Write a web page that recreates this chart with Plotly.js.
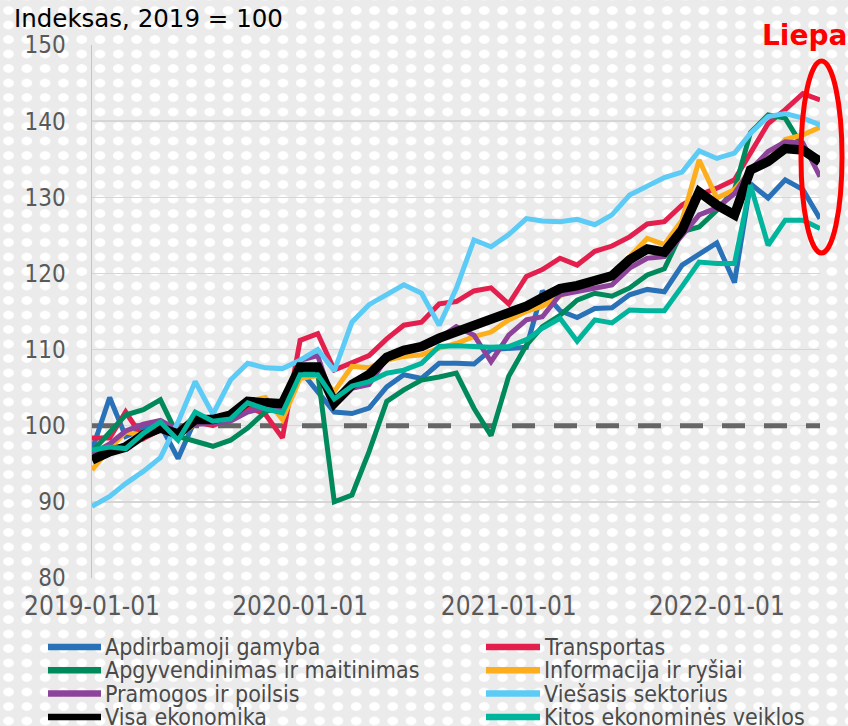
<!DOCTYPE html>
<html>
<head>
<meta charset="utf-8">
<script src="https://cdn.plot.ly/plotly-3.0.1.min.js"></script>
<style>
html,body{margin:0;padding:0;}
body{width:848px;height:726px;overflow:hidden;background-color:#ebebeb;
background-image:radial-gradient(ellipse 5.8px 4.6px at 9.15px 7.25px,#ffffff 0,#ffffff 84%,rgba(255,255,255,0) 100%);
background-size:18.3px 14.5px;background-position:-0.65px 3.25px;}
#chart{width:848px;height:726px;}
</style>
</head>
<body>
<div id="chart"></div>
<script>
const months = [
'2019-01-01','2019-02-01','2019-03-01','2019-04-01','2019-05-01','2019-06-01','2019-07-01','2019-08-01','2019-09-01','2019-10-01','2019-11-01','2019-12-01',
'2020-01-01','2020-02-01','2020-03-01','2020-04-01','2020-05-01','2020-06-01','2020-07-01','2020-08-01','2020-09-01','2020-10-01','2020-11-01','2020-12-01',
'2021-01-01','2021-02-01','2021-03-01','2021-04-01','2021-05-01','2021-06-01','2021-07-01','2021-08-01','2021-09-01','2021-10-01','2021-11-01','2021-12-01',
'2022-01-01','2022-02-01','2022-03-01','2022-04-01','2022-05-01','2022-06-01','2022-07-01'];

const apdirbamoji = [96.8,103.7,98.6,99.6,100.1,95.7,100.8,100.6,101.2,102.5,102.2,101.8,
  107.3,104.5,101.8,101.6,102.3,105.1,106.7,106.2,108.2,108.2,108.1,110.0,
  110.2,110.3,117.7,115.1,114.2,115.4,115.5,117.2,117.9,117.6,121.1,122.6,
  124.0,118.8,131.8,129.9,132.3,131.0,127.2];
const transportas = [98.4,98.4,101.8,98.3,99.5,99.6,100.5,100.0,101.0,102.5,101.5,98.4,
  111.2,112.1,107.3,108.3,109.2,111.4,113.2,113.6,116.0,116.3,117.7,118.1,
  116.0,119.6,120.5,122.0,121.1,122.9,123.6,124.8,126.5,126.8,129.0,130.3,
  131.2,132.3,135.8,139.7,141.5,143.6,142.8];
const apgyvendinimas = [96.6,99.2,101.4,102.1,103.4,98.6,98.0,97.3,98.1,99.7,101.8,102.7,
  106.8,106.9,90.0,90.9,96.6,103.2,104.7,106.0,106.4,106.9,102.3,98.7,
  106.5,110.6,113.0,114.5,116.5,117.4,117.0,118.1,119.8,120.6,125.5,126.1,
  128.3,131.0,138.5,140.8,140.4,136.6,134.8];
const informacija = [94.2,97.0,99.2,98.7,99.5,98.6,100.3,101.0,101.5,103.2,103.7,100.8,
  106.2,106.6,104.5,107.8,107.6,108.6,109.1,109.3,110.2,110.8,111.7,112.3,
  113.9,115.0,115.7,117.0,118.3,118.9,120.0,122.2,124.6,123.8,127.0,134.9,
  129.9,131.0,133.4,134.8,137.6,138.2,139.2];
const pramogos = [96.3,97.6,99.3,100.2,100.7,99.4,100.2,100.3,100.6,101.8,102.4,102.0,
  108.6,109.2,102.6,104.9,105.4,108.9,109.8,110.6,111.5,113.0,111.9,108.4,
  111.9,113.9,114.3,117.2,117.6,118.1,118.5,120.7,122.0,122.2,124.9,127.7,
  128.6,130.5,133.6,136.0,137.3,137.1,132.7];
const viesasis = [89.4,90.7,92.4,94.0,95.8,100.5,105.8,101.5,106.0,108.2,107.6,107.5,
  108.6,110.0,107.2,113.6,115.9,117.2,118.5,117.4,113.2,118.0,124.4,123.5,
  125.1,127.2,126.9,126.8,127.1,126.4,127.7,130.3,131.4,132.6,133.3,136.1,
  135.1,135.8,138.4,140.6,141.0,140.4,139.5];
const visa = [95.5,96.6,97.2,98.8,99.7,98.9,100.8,100.8,101.4,103.2,103.0,102.9,
  107.7,107.7,103.0,105.4,106.7,109.0,109.9,110.4,111.5,112.3,113.0,113.9,
  114.8,115.7,116.8,118.0,118.4,119.1,119.7,121.8,123.2,122.8,125.7,130.7,
  129.0,127.7,133.6,134.7,136.4,136.2,134.7];
const kitos = [96.8,97.2,97.0,99.0,100.5,98.1,101.8,100.6,100.9,103.0,102.2,101.7,
  106.7,106.7,103.5,105.2,105.8,106.9,107.3,108.2,110.4,110.5,110.4,110.3,
  110.4,111.3,112.8,114.1,111.1,113.9,113.5,115.2,115.1,115.1,118.3,121.5,
  121.3,121.3,131.6,123.7,127.0,127.0,125.9];

const seriesNames = ['Apdirbamoji gamyba','Transportas','Apgyvendinimas ir maitinimas','Informacija ir ryšiai',
  'Pramogos ir poilsis','Viešasis sektorius','Visa ekonomika','Kitos ekonominės veiklos'];
const seriesValues = [apdirbamoji, transportas, apgyvendinimas, informacija, pramogos, viesasis, visa, kitos];
const seriesColors = ['#2a72b8','#e3204d','#00895b','#fdae1c','#8c4399','#5ccbf5','#000000','#00b59b'];
const seriesWidths = [5,5,5,5,5,5,9.5,5];

const baseline = 100;
const xTicks = ['2019-01-01','2020-01-01','2021-01-01','2022-01-01'];
const yTicks = [80,90,100,110,120,130,140,150];
const titleText = 'Indeksas, 2019 = 100';
const highlightText = 'Liepa';

// pixel -> paper helpers (plot area: x 92..820, y 45..578)
const L = 92, R = 820, T = 45, B = 578;
const px = x => (x - L) / (R - L);
const py = y => (B - y) / (B - T);

const traces = [{
  type: 'scatter', mode: 'lines', name: 'baseline',
  x: [months[0], months[months.length - 1]], y: [baseline, baseline],
  line: {color: '#666666', width: 5, dash: '23px,19px'}, showlegend: false, hoverinfo: 'skip'
}].concat(seriesNames.map((n, i) => ({
  type: 'scatter', mode: 'lines', name: n, x: months, y: seriesValues[i],
  line: {color: seriesColors[i], width: seriesWidths[i], shape: 'linear'},
  showlegend: false, hoverinfo: 'skip'
})));

const shapes = [
  {type: 'circle', xref: 'paper', yref: 'paper', x0: px(801), x1: px(842), y0: py(253), y1: py(61),
   line: {color: '#ff0000', width: 5}}
];
const annotations = [
  {text: titleText, xref: 'paper', yref: 'paper', x: px(12), y: py(19), xanchor: 'left', yanchor: 'middle',
   showarrow: false, font: {family: 'DejaVu Sans', size: 24.5, color: '#000000'}},
  {text: '<b>' + highlightText + '</b>', xref: 'paper', yref: 'paper', x: px(760), y: py(36), xanchor: 'left', yanchor: 'middle',
   showarrow: false, font: {family: 'DejaVu Sans', size: 28, color: '#ff0000'}}
];
seriesNames.forEach((n, i) => {
  const col = i % 2, row = Math.floor(i / 2);
  const yy = 647 + row * 23.3;
  const lx0 = col ? 486 : 48, lx1 = col ? 540 : 101, tx = col ? 542 : 103;
  shapes.push({type: 'line', xref: 'paper', yref: 'paper', x0: px(lx0), x1: px(lx1), y0: py(yy), y1: py(yy),
    line: {color: seriesColors[i], width: 6.5}});
  annotations.push({text: n, xref: 'paper', yref: 'paper', x: px(tx), y: py(yy), xanchor: 'left', yanchor: 'middle',
    showarrow: false, font: {family: 'DejaVu Sans Condensed', size: 23, color: '#4a4a4a'}});
});

const layout = {
  width: 848, height: 726,
  margin: {l: L, r: 848 - R, t: T, b: 726 - B, pad: 0},
  paper_bgcolor: 'rgba(0,0,0,0)', plot_bgcolor: 'rgba(0,0,0,0)',
  showlegend: false,
  xaxis: {type: 'date', range: ['2019-01-01', '2022-07-01'], tickmode: 'array', tickvals: xTicks, ticktext: xTicks,
    showgrid: false, zeroline: false, showline: false, ticks: '',
    tickfont: {family: 'DejaVu Sans Condensed', size: 26, color: '#595959'}, ticklabelstandoff: 10},
  yaxis: {range: [80, 150], tickmode: 'array', tickvals: yTicks, showgrid: true, gridcolor: '#d6d6d6', gridwidth: 1.5,
    zeroline: false, showline: true, linecolor: '#c4c4c4', linewidth: 1.5, ticks: '',
    tickfont: {family: 'DejaVu Sans Condensed', size: 24, color: '#595959'}, ticklabelstandoff: 20},
  shapes: shapes, annotations: annotations
};

Plotly.newPlot('chart', traces, layout, {staticPlot: true, displayModeBar: false});
</script>
</body>
</html>
